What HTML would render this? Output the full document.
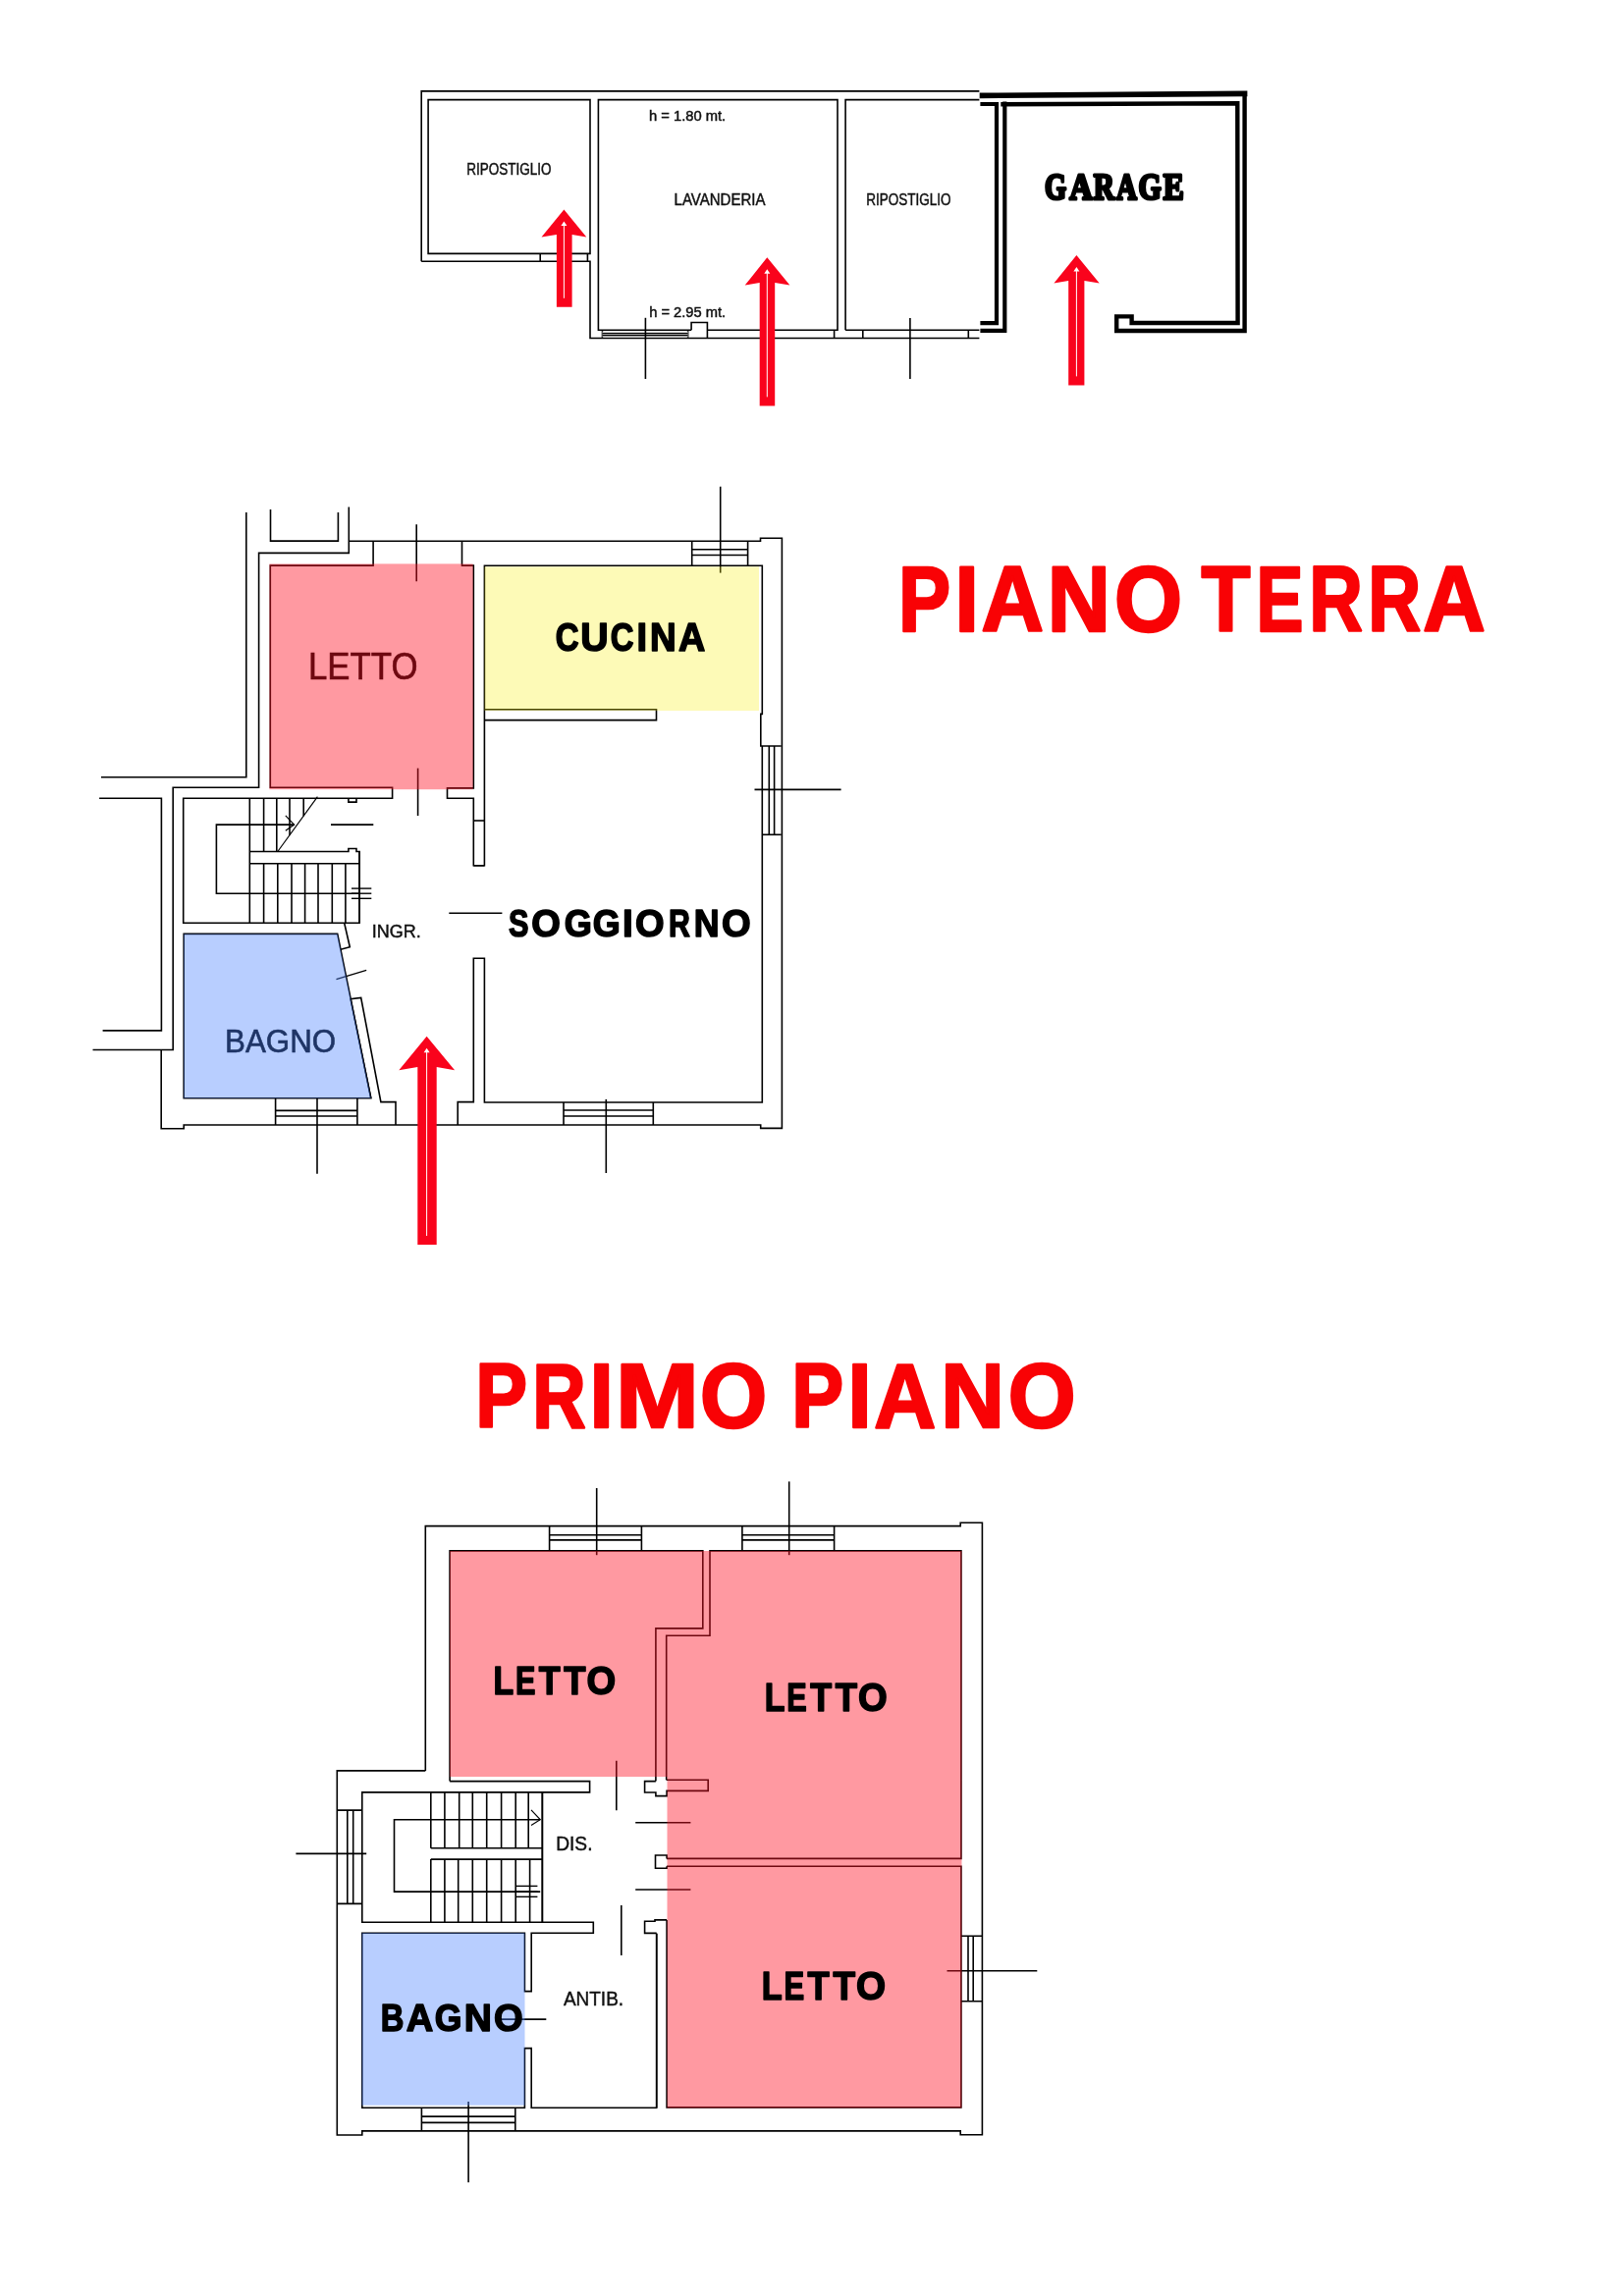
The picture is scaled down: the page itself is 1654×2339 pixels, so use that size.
<!DOCTYPE html>
<html><head><meta charset="utf-8"><style>
html,body{margin:0;padding:0;background:#fff;}
body{width:1654px;height:2339px;overflow:hidden;font-family:"Liberation Sans",sans-serif;}
svg{display:block;will-change:transform;}
text{-webkit-font-smoothing:antialiased;}
</style></head><body>
<svg width="1654" height="2339" viewBox="0 0 1654 2339">
<rect width="1654" height="2339" fill="#fff"/>
<path d="M 429.2 266.3 V 92.9 H 997.4" stroke="#000" stroke-width="1.6" fill="none" />
<path d="M 436.1 101.6 H 601 V 258.4 H 436.1 Z" stroke="#000" stroke-width="1.6" fill="none" />
<path d="M 429.2 266.3 H 601 V 344.5 H 997.4" stroke="#000" stroke-width="1.6" fill="none" />
<line x1="550.2" y1="258.4" x2="550.2" y2="266.3" stroke="#000" stroke-width="1.6"/>
<line x1="598.4" y1="258.4" x2="598.4" y2="266.3" stroke="#000" stroke-width="1.6"/>
<path d="M 704.1 336.3 H 609.4 V 101.6 H 853 V 336.3 H 720.4" stroke="#000" stroke-width="1.6" fill="none" />
<path d="M 704.1 336.3 V 328.5 H 720.4 V 344.5" stroke="#000" stroke-width="1.6" fill="none" />
<line x1="613.5" y1="336.3" x2="613.5" y2="344.5" stroke="#000" stroke-width="1.6"/>
<line x1="700.6" y1="336.3" x2="700.6" y2="344.5" stroke="#000" stroke-width="1.6"/>
<rect x="613.5" y="337.5" width="87.1" height="6" fill="#d8d8d8" />
<line x1="613.5" y1="339.6" x2="700.6" y2="339.6" stroke="#000" stroke-width="1.2"/>
<line x1="613.5" y1="341.7" x2="700.6" y2="341.7" stroke="#000" stroke-width="1.2"/>
<line x1="849.6" y1="336.3" x2="849.6" y2="344.5" stroke="#000" stroke-width="1.6"/>
<path d="M 861.1 336.3 V 101.6 H 997.4" stroke="#000" stroke-width="1.6" fill="none" />
<path d="M 861.1 336.3 H 997.4" stroke="#000" stroke-width="1.6" fill="none" />
<line x1="878.8" y1="336.3" x2="878.8" y2="344.5" stroke="#000" stroke-width="1.6"/>
<line x1="986.3" y1="336.3" x2="986.3" y2="344.5" stroke="#000" stroke-width="1.6"/>
<line x1="657.4" y1="323.8" x2="657.4" y2="386" stroke="#000" stroke-width="1.6"/>
<line x1="926.9" y1="323.9" x2="926.9" y2="386" stroke="#000" stroke-width="1.6"/>
<path d="M 1000.5 97.4 L 1267.6 95.4" stroke="#000" stroke-width="5.6" fill="none" stroke-linejoin="miter" stroke-linecap="square"/>
<path d="M 1267.6 95.4 L 1267.6 337 L 1137.2 337 L 1137.2 322.4 L 1152.6 322.4 L 1152.6 329 L 1260.6 329 L 1260.3 105.2 L 1021.5 106.2" stroke="#000" stroke-width="4.4" fill="none" stroke-linejoin="miter" stroke-linecap="square"/>
<path d="M 1000.5 106 H 1015 V 329.2 H 1000.5" stroke="#000" stroke-width="4.2" fill="none" stroke-linejoin="miter" stroke-linecap="square"/>
<path d="M 1023.3 105.6 V 336.8 H 1000.5" stroke="#000" stroke-width="4.2" fill="none" stroke-linejoin="miter" stroke-linecap="square"/>
<path d="M 250.8 522 V 791.7 H 103" stroke="#000" stroke-width="1.6" fill="none" />
<path d="M 275.5 519 V 551.1 H 344.4 V 522" stroke="#000" stroke-width="1.6" fill="none" />
<path d="M 355.3 516.6 V 563.4 H 263.6 V 802.3 H 176.2 V 1069.5 H 94.5" stroke="#000" stroke-width="1.6" fill="none" />
<path d="M 101.1 813.2 H 164.4 V 1049.9 H 104.6" stroke="#000" stroke-width="1.6" fill="none" />
<path d="M 164.2 1069.5 V 1149.8 H 187.2 V 1146 H 774.7 V 1149.4 H 796.4 V 548.2 H 774.5 V 551.3 H 355.3" stroke="#000" stroke-width="1.6" fill="none" />
<path d="M 380.1 551.3 V 576.1 H 275.3 V 802.3 H 399.6 V 813.3 H 186.7 V 940.3 H 366.1 V 867.5" stroke="#000" stroke-width="1.6" fill="none" />
<path d="M 470.5 551.3 V 576.1 H 482.3 V 802.9 H 455.5 V 813.3 H 482.3 V 881.8 H 493.4 V 576.3 H 704.7" stroke="#000" stroke-width="1.6" fill="none" />
<line x1="482.3" y1="836" x2="493.4" y2="836" stroke="#000" stroke-width="1.6"/>
<path d="M 354.9 813.3 V 817.1 H 363 V 813.3" stroke="#000" stroke-width="1.6" fill="none" />
<path d="M 704.7 551.3 V 576.3 H 761.6 V 551.3" stroke="#000" stroke-width="1.6" fill="none" />
<line x1="704.7" y1="559.8" x2="761.6" y2="559.8" stroke="#000" stroke-width="1.6"/>
<line x1="704.7" y1="565.5" x2="761.6" y2="565.5" stroke="#000" stroke-width="1.6"/>
<path d="M 761.6 576.3 H 776.3 V 727.4 H 774.8 V 760 H 795.7" stroke="#000" stroke-width="1.6" fill="none" />
<line x1="783.3" y1="760" x2="783.3" y2="850.3" stroke="#000" stroke-width="1.6"/>
<line x1="788.6" y1="760" x2="788.6" y2="850.3" stroke="#000" stroke-width="1.6"/>
<path d="M 776.3 760 V 1123 H 493.4 V 976.3 H 482.3 V 1122.6 H 466.2 V 1146" stroke="#000" stroke-width="1.6" fill="none" />
<line x1="776.3" y1="850.3" x2="795.7" y2="850.3" stroke="#000" stroke-width="1.6"/>
<path d="M 493.4 722.7 H 668.5 V 733.6 H 493.4" stroke="#000" stroke-width="1.6" fill="none" />
<line x1="424.2" y1="534.3" x2="424.2" y2="592.2" stroke="#000" stroke-width="1.6"/>
<line x1="733.7" y1="495.7" x2="733.7" y2="583.6" stroke="#000" stroke-width="1.6"/>
<line x1="768.5" y1="804.4" x2="856.6" y2="804.4" stroke="#000" stroke-width="1.6"/>
<line x1="425.6" y1="782.6" x2="425.6" y2="831" stroke="#000" stroke-width="1.6"/>
<line x1="617.3" y1="1119.9" x2="617.3" y2="1195" stroke="#000" stroke-width="1.6"/>
<line x1="323" y1="1118.8" x2="323" y2="1195.8" stroke="#000" stroke-width="1.6"/>
<line x1="457.3" y1="930.2" x2="511.4" y2="930.2" stroke="#000" stroke-width="1.6"/>
<line x1="337" y1="840.1" x2="380.3" y2="840.1" stroke="#000" stroke-width="1.6"/>
<path d="M 574 1123 V 1146 M 665.3 1123 V 1146" stroke="#000" stroke-width="1.6" fill="none" />
<line x1="574" y1="1131" x2="665.3" y2="1131" stroke="#000" stroke-width="1.6"/>
<line x1="574" y1="1137" x2="665.3" y2="1137" stroke="#000" stroke-width="1.6"/>
<path d="M 254.3 813.3 V 940.3" stroke="#000" stroke-width="1.6" fill="none" />
<line x1="268.6" y1="813.3" x2="268.6" y2="867.5" stroke="#000" stroke-width="1.6"/>
<line x1="281.8" y1="813.3" x2="281.8" y2="867.5" stroke="#000" stroke-width="1.6"/>
<line x1="323.4" y1="811.7" x2="282.8" y2="867.5" stroke="#000" stroke-width="1.2"/>
<line x1="295.0" y1="813.3" x2="295.0" y2="850.7325123152709" stroke="#000" stroke-width="1.6"/>
<line x1="309.2" y1="813.3" x2="309.2" y2="831.2162561576355" stroke="#000" stroke-width="1.6"/>
<line x1="322.4" y1="813.3" x2="322.4" y2="813.0743842364533" stroke="#000" stroke-width="1.6"/>
<path d="M 300 840.1 H 220.4 V 910.2 H 366.1" stroke="#000" stroke-width="1.6" fill="none" />
<path d="M 290.8 830.8 L 299.6 840.1 L 290.8 846.2" stroke="#000" stroke-width="1.2" fill="none" />
<path d="M 254.3 867.5 H 354.9 V 864.5 H 363 V 867.5 H 366.1 V 940.3" stroke="#000" stroke-width="1.6" fill="none" />
<line x1="254.3" y1="879.7" x2="366.1" y2="879.7" stroke="#000" stroke-width="1.6"/>
<line x1="268.6" y1="879.7" x2="268.6" y2="940.3" stroke="#000" stroke-width="1.6"/>
<line x1="282.8" y1="879.7" x2="282.8" y2="940.3" stroke="#000" stroke-width="1.6"/>
<line x1="297" y1="879.7" x2="297" y2="940.3" stroke="#000" stroke-width="1.6"/>
<line x1="310.6" y1="879.7" x2="310.6" y2="940.3" stroke="#000" stroke-width="1.6"/>
<line x1="324" y1="879.7" x2="324" y2="940.3" stroke="#000" stroke-width="1.6"/>
<line x1="338.3" y1="879.7" x2="338.3" y2="940.3" stroke="#000" stroke-width="1.6"/>
<line x1="351.9" y1="879.7" x2="351.9" y2="940.3" stroke="#000" stroke-width="1.6"/>
<line x1="358" y1="905.1" x2="378.3" y2="905.1" stroke="#000" stroke-width="1.4"/>
<line x1="358" y1="910.2" x2="378.3" y2="910.2" stroke="#000" stroke-width="1.4"/>
<line x1="358" y1="915.3" x2="378.3" y2="915.3" stroke="#000" stroke-width="1.4"/>
<path d="M 187.2 951.4 H 343.7 L 377.8 1118.8 H 187.2 Z" stroke="#000" stroke-width="1.6" fill="none" />
<path d="M 350.8 940.8 L 356.3 964.8 L 346.9 967.3" stroke="#000" stroke-width="1.6" fill="none" />
<line x1="342.5" y1="997.6" x2="373.2" y2="988.3" stroke="#000" stroke-width="1.3"/>
<path d="M 377.8 1118.8 L 357.1 1017.8 L 367.7 1016.5 L 387.9 1122.6 H 403 V 1146" stroke="#000" stroke-width="1.6" fill="none" />
<path d="M 280.6 1118.8 V 1146 M 363.9 1118.8 V 1146" stroke="#000" stroke-width="1.6" fill="none" />
<line x1="280.6" y1="1131.4" x2="363.9" y2="1131.4" stroke="#000" stroke-width="1.6"/>
<line x1="280.6" y1="1137" x2="363.9" y2="1137" stroke="#000" stroke-width="1.6"/>
<path d="M 482.3 881.8 H 493.4" stroke="#000" stroke-width="1.6" fill="none" />
<rect x="274.4" y="574.4" width="207.3" height="229.8" fill="rgb(255,19,37)" fill-opacity="0.43"/>
<rect x="493.4" y="577.3" width="279.6" height="146.7" fill="rgb(248,238,18)" fill-opacity="0.3"/>
<polygon points="187.2,951.4 343.7,951.4 377.8,1118.8 187.2,1118.8" fill="rgb(77,132,255)" fill-opacity="0.4"/>
<text x="314.02" y="691.82" font-family="Liberation Sans" font-weight="400" font-size="38.17" textLength="111.41" lengthAdjust="spacingAndGlyphs" fill="#6e0810" stroke="#6e0810" stroke-width="0.6">LETTO</text>
<text x="229.10" y="1071.97" font-family="Liberation Sans" font-weight="400" font-size="33.38" textLength="113.07" lengthAdjust="spacingAndGlyphs" fill="#1f3566" stroke="#1f3566" stroke-width="0.6">BAGNO</text>
<text x="378.68" y="955.42" font-family="Liberation Sans" font-weight="400" font-size="18.45" textLength="49.99" lengthAdjust="spacingAndGlyphs" fill="#111" stroke="#111" stroke-width="0.45">INGR.</text>
<text x="565.78" y="662.80" font-family="Liberation Sans" font-weight="700" font-size="40.43" textLength="23.82" lengthAdjust="spacingAndGlyphs" fill="#000"  stroke="#000" stroke-width="1.6" stroke-linejoin="round">C</text>
<text x="591.14" y="662.80" font-family="Liberation Sans" font-weight="700" font-size="40.43" textLength="28.41" lengthAdjust="spacingAndGlyphs" fill="#000"  stroke="#000" stroke-width="1.6" stroke-linejoin="round">U</text>
<text x="621.69" y="662.80" font-family="Liberation Sans" font-weight="700" font-size="40.43" textLength="23.71" lengthAdjust="spacingAndGlyphs" fill="#000"  stroke="#000" stroke-width="1.6" stroke-linejoin="round">C</text>
<text x="648.53" y="662.80" font-family="Liberation Sans" font-weight="700" font-size="40.43" textLength="10.54" lengthAdjust="spacingAndGlyphs" fill="#000"  stroke="#000" stroke-width="1.6" stroke-linejoin="round">I</text>
<text x="662.00" y="662.80" font-family="Liberation Sans" font-weight="700" font-size="40.43" textLength="26.68" lengthAdjust="spacingAndGlyphs" fill="#000"  stroke="#000" stroke-width="1.6" stroke-linejoin="round">N</text>
<text x="690.96" y="662.80" font-family="Liberation Sans" font-weight="700" font-size="40.43" textLength="27.27" lengthAdjust="spacingAndGlyphs" fill="#000"  stroke="#000" stroke-width="1.6" stroke-linejoin="round">A</text>
<text x="517.88" y="953.80" font-family="Liberation Sans" font-weight="700" font-size="39.71" textLength="20.46" lengthAdjust="spacingAndGlyphs" fill="#000"  stroke="#000" stroke-width="1.6" stroke-linejoin="round">S</text>
<text x="541.28" y="953.80" font-family="Liberation Sans" font-weight="700" font-size="39.71" textLength="29.55" lengthAdjust="spacingAndGlyphs" fill="#000"  stroke="#000" stroke-width="1.6" stroke-linejoin="round">O</text>
<text x="574.65" y="953.80" font-family="Liberation Sans" font-weight="700" font-size="39.71" textLength="28.12" lengthAdjust="spacingAndGlyphs" fill="#000"  stroke="#000" stroke-width="1.6" stroke-linejoin="round">G</text>
<text x="603.86" y="953.80" font-family="Liberation Sans" font-weight="700" font-size="39.71" textLength="28.00" lengthAdjust="spacingAndGlyphs" fill="#000"  stroke="#000" stroke-width="1.6" stroke-linejoin="round">G</text>
<text x="633.99" y="953.80" font-family="Liberation Sans" font-weight="700" font-size="39.71" textLength="10.73" lengthAdjust="spacingAndGlyphs" fill="#000"  stroke="#000" stroke-width="1.6" stroke-linejoin="round">I</text>
<text x="646.98" y="953.80" font-family="Liberation Sans" font-weight="700" font-size="39.71" textLength="29.55" lengthAdjust="spacingAndGlyphs" fill="#000"  stroke="#000" stroke-width="1.6" stroke-linejoin="round">O</text>
<text x="680.93" y="953.80" font-family="Liberation Sans" font-weight="700" font-size="39.71" textLength="21.84" lengthAdjust="spacingAndGlyphs" fill="#000"  stroke="#000" stroke-width="1.6" stroke-linejoin="round">R</text>
<text x="706.68" y="953.80" font-family="Liberation Sans" font-weight="700" font-size="39.71" textLength="25.83" lengthAdjust="spacingAndGlyphs" fill="#000"  stroke="#000" stroke-width="1.6" stroke-linejoin="round">N</text>
<text x="734.97" y="953.80" font-family="Liberation Sans" font-weight="700" font-size="39.71" textLength="29.66" lengthAdjust="spacingAndGlyphs" fill="#000"  stroke="#000" stroke-width="1.6" stroke-linejoin="round">O</text>
<text x="475.22" y="177.74" font-family="Liberation Sans" font-weight="400" font-size="15.63" textLength="86.26" lengthAdjust="spacingAndGlyphs" fill="#111" stroke="#111" stroke-width="0.45">RIPOSTIGLIO</text>
<text x="686.60" y="209.30" font-family="Liberation Sans" font-weight="400" font-size="16.09" textLength="92.83" lengthAdjust="spacingAndGlyphs" fill="#111" stroke="#111" stroke-width="0.45">LAVANDERIA</text>
<text x="882.22" y="209.14" font-family="Liberation Sans" font-weight="400" font-size="15.63" textLength="86.36" lengthAdjust="spacingAndGlyphs" fill="#111" stroke="#111" stroke-width="0.45">RIPOSTIGLIO</text>
<text x="660.97" y="122.76" font-family="Liberation Sans" font-weight="400" font-size="14.42" textLength="78.24" lengthAdjust="spacingAndGlyphs" fill="#111" stroke="#111" stroke-width="0.45">h = 1.80 mt.</text>
<text x="661.17" y="323.25" font-family="Liberation Sans" font-weight="400" font-size="14.69" textLength="78.03" lengthAdjust="spacingAndGlyphs" fill="#111" stroke="#111" stroke-width="0.45">h = 2.95 mt.</text>
<text x="1064.08" y="203.40" font-family="Liberation Serif" font-weight="700" font-size="38.02" textLength="22.11" lengthAdjust="spacingAndGlyphs" fill="#000" stroke="#000" stroke-width="3.2" stroke-linejoin="round">G</text>
<text x="1089.28" y="203.40" font-family="Liberation Serif" font-weight="700" font-size="38.02" textLength="23.46" lengthAdjust="spacingAndGlyphs" fill="#000" stroke="#000" stroke-width="3.2" stroke-linejoin="round">A</text>
<text x="1113.76" y="203.40" font-family="Liberation Serif" font-weight="700" font-size="38.02" textLength="21.21" lengthAdjust="spacingAndGlyphs" fill="#000" stroke="#000" stroke-width="3.2" stroke-linejoin="round">R</text>
<text x="1137.11" y="203.40" font-family="Liberation Serif" font-weight="700" font-size="38.02" textLength="20.90" lengthAdjust="spacingAndGlyphs" fill="#000" stroke="#000" stroke-width="3.2" stroke-linejoin="round">A</text>
<text x="1159.50" y="203.40" font-family="Liberation Serif" font-weight="700" font-size="38.02" textLength="23.34" lengthAdjust="spacingAndGlyphs" fill="#000" stroke="#000" stroke-width="3.2" stroke-linejoin="round">G</text>
<text x="1184.73" y="203.40" font-family="Liberation Serif" font-weight="700" font-size="38.02" textLength="21.01" lengthAdjust="spacingAndGlyphs" fill="#000" stroke="#000" stroke-width="3.2" stroke-linejoin="round">E</text>
<text x="915.02" y="642.50" font-family="Liberation Sans" font-weight="700" font-size="93.62" textLength="53.13" lengthAdjust="spacingAndGlyphs" fill="#f90205"  stroke="#f90205" stroke-width="2.6" stroke-linejoin="round">P</text>
<text x="972.51" y="642.50" font-family="Liberation Sans" font-weight="700" font-size="93.62" textLength="24.34" lengthAdjust="spacingAndGlyphs" fill="#f90205"  stroke="#f90205" stroke-width="2.6" stroke-linejoin="round">I</text>
<text x="999.61" y="642.50" font-family="Liberation Sans" font-weight="700" font-size="93.62" textLength="63.38" lengthAdjust="spacingAndGlyphs" fill="#f90205"  stroke="#f90205" stroke-width="2.6" stroke-linejoin="round">A</text>
<text x="1066.63" y="642.50" font-family="Liberation Sans" font-weight="700" font-size="93.62" textLength="64.14" lengthAdjust="spacingAndGlyphs" fill="#f90205"  stroke="#f90205" stroke-width="2.6" stroke-linejoin="round">N</text>
<text x="1134.95" y="642.50" font-family="Liberation Sans" font-weight="700" font-size="93.62" textLength="69.06" lengthAdjust="spacingAndGlyphs" fill="#f90205"  stroke="#f90205" stroke-width="2.6" stroke-linejoin="round">O</text>
<text x="1223.48" y="642.50" font-family="Liberation Sans" font-weight="700" font-size="93.62" textLength="50.01" lengthAdjust="spacingAndGlyphs" fill="#f90205"  stroke="#f90205" stroke-width="2.6" stroke-linejoin="round">T</text>
<text x="1279.53" y="642.50" font-family="Liberation Sans" font-weight="700" font-size="93.62" textLength="47.93" lengthAdjust="spacingAndGlyphs" fill="#f90205"  stroke="#f90205" stroke-width="2.6" stroke-linejoin="round">E</text>
<text x="1333.29" y="642.50" font-family="Liberation Sans" font-weight="700" font-size="93.62" textLength="54.59" lengthAdjust="spacingAndGlyphs" fill="#f90205"  stroke="#f90205" stroke-width="2.6" stroke-linejoin="round">R</text>
<text x="1393.15" y="642.50" font-family="Liberation Sans" font-weight="700" font-size="93.62" textLength="53.91" lengthAdjust="spacingAndGlyphs" fill="#f90205"  stroke="#f90205" stroke-width="2.6" stroke-linejoin="round">R</text>
<text x="1449.20" y="642.50" font-family="Liberation Sans" font-weight="700" font-size="93.62" textLength="63.49" lengthAdjust="spacingAndGlyphs" fill="#f90205"  stroke="#f90205" stroke-width="2.6" stroke-linejoin="round">A</text>
<text x="484.16" y="1454.20" font-family="Liberation Sans" font-weight="700" font-size="93.04" textLength="52.78" lengthAdjust="spacingAndGlyphs" fill="#f90205"  stroke="#f90205" stroke-width="2.6" stroke-linejoin="round">P</text>
<text x="542.30" y="1454.20" font-family="Liberation Sans" font-weight="700" font-size="93.04" textLength="54.48" lengthAdjust="spacingAndGlyphs" fill="#f90205"  stroke="#f90205" stroke-width="2.6" stroke-linejoin="round">R</text>
<text x="600.61" y="1454.20" font-family="Liberation Sans" font-weight="700" font-size="93.04" textLength="24.34" lengthAdjust="spacingAndGlyphs" fill="#f90205"  stroke="#f90205" stroke-width="2.6" stroke-linejoin="round">I</text>
<text x="626.98" y="1454.20" font-family="Liberation Sans" font-weight="700" font-size="93.04" textLength="84.85" lengthAdjust="spacingAndGlyphs" fill="#f90205"  stroke="#f90205" stroke-width="2.6" stroke-linejoin="round">M</text>
<text x="712.99" y="1454.20" font-family="Liberation Sans" font-weight="700" font-size="93.04" textLength="68.16" lengthAdjust="spacingAndGlyphs" fill="#f90205"  stroke="#f90205" stroke-width="2.6" stroke-linejoin="round">O</text>
<text x="806.15" y="1454.20" font-family="Liberation Sans" font-weight="700" font-size="93.04" textLength="52.89" lengthAdjust="spacingAndGlyphs" fill="#f90205"  stroke="#f90205" stroke-width="2.6" stroke-linejoin="round">P</text>
<text x="863.55" y="1454.20" font-family="Liberation Sans" font-weight="700" font-size="93.04" textLength="24.15" lengthAdjust="spacingAndGlyphs" fill="#f90205"  stroke="#f90205" stroke-width="2.6" stroke-linejoin="round">I</text>
<text x="890.32" y="1454.20" font-family="Liberation Sans" font-weight="700" font-size="93.04" textLength="62.95" lengthAdjust="spacingAndGlyphs" fill="#f90205"  stroke="#f90205" stroke-width="2.6" stroke-linejoin="round">A</text>
<text x="958.18" y="1454.20" font-family="Liberation Sans" font-weight="700" font-size="93.04" textLength="64.63" lengthAdjust="spacingAndGlyphs" fill="#f90205"  stroke="#f90205" stroke-width="2.6" stroke-linejoin="round">N</text>
<text x="1026.76" y="1454.20" font-family="Liberation Sans" font-weight="700" font-size="93.04" textLength="68.83" lengthAdjust="spacingAndGlyphs" fill="#f90205"  stroke="#f90205" stroke-width="2.6" stroke-linejoin="round">O</text>
<path d="M 433.3 1803.9 V 1554.6 H 978.2 V 1551.2 H 1000.4 V 2174.8 H 978.2 V 2170.9 H 368.8 V 2175 H 343.3 V 1803.9 H 433.3" stroke="#000" stroke-width="1.6" fill="none" />
<path d="M 559.6 1554.6 V 1579.9 M 653.4 1554.6 V 1579.9" stroke="#000" stroke-width="1.6" fill="none" />
<line x1="559.6" y1="1563.8" x2="653.4" y2="1563.8" stroke="#000" stroke-width="1.6"/>
<line x1="559.6" y1="1568.9" x2="653.4" y2="1568.9" stroke="#000" stroke-width="1.6"/>
<path d="M 755.9 1554.6 V 1579.9 M 849.6 1554.6 V 1579.9" stroke="#000" stroke-width="1.6" fill="none" />
<line x1="755.9" y1="1563.8" x2="849.6" y2="1563.8" stroke="#000" stroke-width="1.6"/>
<line x1="755.9" y1="1568.9" x2="849.6" y2="1568.9" stroke="#000" stroke-width="1.6"/>
<line x1="607.7" y1="1516" x2="607.7" y2="1584.2" stroke="#000" stroke-width="1.6"/>
<line x1="803.7" y1="1509.3" x2="803.7" y2="1584.2" stroke="#000" stroke-width="1.6"/>
<path d="M 458.1 1814.6 V 1579.9 H 715.8 V 1658.9 H 667.9 V 1814.6" stroke="#000" stroke-width="1.6" fill="none" />
<path d="M 458.1 1814.6 H 600.6 V 1825.9 H 368.8 V 1958.2 H 604.3 V 1969.2 H 541.2 V 2028.6 H 534.4 V 1969.2 H 368.8 V 2147.2 H 534.4 V 2086.6 H 541.2 V 2147.2 H 668.7 V 1969.7" stroke="#000" stroke-width="1.6" fill="none" />
<path d="M 678.7 1813.2 V 1666.3 H 723 V 1579.9 H 978.9 V 1893.4 H 679.1" stroke="#000" stroke-width="1.6" fill="none" />
<path d="M 679.1 1901.2 H 978.9 V 2146.9 H 679.1 V 1955.9" stroke="#000" stroke-width="1.6" fill="none" />
<path d="M 667.9 1814.6 H 656.6 V 1826 H 667.9 V 1829.6 H 679.1 V 1824.4 H 721.2 V 1813.2 H 678.7" stroke="#000" stroke-width="1.6" fill="none" />
<path d="M 679.1 1893.4 V 1890 H 667.5 V 1903.2 H 679.1 V 1901.2" stroke="#000" stroke-width="1.6" fill="none" />
<path d="M 679.1 1955.9 H 667 V 1957.3 H 656.6 V 1969.4 H 668.7" stroke="#000" stroke-width="1.6" fill="none" />
<path d="M 343.7 1844.1 H 368.5 M 343.7 1939.4 H 368.5" stroke="#000" stroke-width="1.6" fill="none" />
<line x1="353.8" y1="1844.1" x2="353.8" y2="1939.4" stroke="#000" stroke-width="1.6"/>
<line x1="359.7" y1="1844.1" x2="359.7" y2="1939.4" stroke="#000" stroke-width="1.6"/>
<line x1="301.4" y1="1888.4" x2="373.2" y2="1888.4" stroke="#000" stroke-width="1.6"/>
<line x1="438.8" y1="1826" x2="438.8" y2="1882.8" stroke="#000" stroke-width="1.6"/>
<line x1="452.9" y1="1826" x2="452.9" y2="1882.8" stroke="#000" stroke-width="1.6"/>
<line x1="467.7" y1="1826" x2="467.7" y2="1882.8" stroke="#000" stroke-width="1.6"/>
<line x1="481.3" y1="1826" x2="481.3" y2="1882.8" stroke="#000" stroke-width="1.6"/>
<line x1="495.7" y1="1826" x2="495.7" y2="1882.8" stroke="#000" stroke-width="1.6"/>
<line x1="510.6" y1="1826" x2="510.6" y2="1882.8" stroke="#000" stroke-width="1.6"/>
<line x1="525.2" y1="1826" x2="525.2" y2="1882.8" stroke="#000" stroke-width="1.6"/>
<line x1="538.2" y1="1826" x2="538.2" y2="1882.8" stroke="#000" stroke-width="1.6"/>
<line x1="438.8" y1="1894.1" x2="438.8" y2="1958.2" stroke="#000" stroke-width="1.6"/>
<line x1="452.9" y1="1894.1" x2="452.9" y2="1958.2" stroke="#000" stroke-width="1.6"/>
<line x1="466.7" y1="1894.1" x2="466.7" y2="1958.2" stroke="#000" stroke-width="1.6"/>
<line x1="481.3" y1="1894.1" x2="481.3" y2="1958.2" stroke="#000" stroke-width="1.6"/>
<line x1="495.7" y1="1894.1" x2="495.7" y2="1958.2" stroke="#000" stroke-width="1.6"/>
<line x1="510.6" y1="1894.1" x2="510.6" y2="1958.2" stroke="#000" stroke-width="1.6"/>
<line x1="525.2" y1="1894.1" x2="525.2" y2="1958.2" stroke="#000" stroke-width="1.6"/>
<line x1="539.6" y1="1894.1" x2="539.6" y2="1958.2" stroke="#000" stroke-width="1.6"/>
<line x1="552.3" y1="1826" x2="552.3" y2="1958.2" stroke="#000" stroke-width="2.0"/>
<path d="M 550.2 1853.7 H 401.5 V 1927.1 H 550.2" stroke="#000" stroke-width="1.6" fill="none" />
<path d="M 541 1843.8 L 550.2 1853.7 L 541 1859.4" stroke="#000" stroke-width="1.2" fill="none" />
<line x1="438.8" y1="1882.8" x2="552.3" y2="1882.8" stroke="#000" stroke-width="1.6"/>
<line x1="438.8" y1="1894.1" x2="552.3" y2="1894.1" stroke="#000" stroke-width="1.6"/>
<line x1="525.4" y1="1921.4" x2="547.4" y2="1921.4" stroke="#000" stroke-width="1.4"/>
<line x1="525.4" y1="1927.1" x2="547.4" y2="1927.1" stroke="#000" stroke-width="1.4"/>
<line x1="525.4" y1="1932.3" x2="547.4" y2="1932.3" stroke="#000" stroke-width="1.4"/>
<path d="M 429.4 2147.2 V 2171 M 524.8 2147.2 V 2171" stroke="#000" stroke-width="1.6" fill="none" />
<line x1="429.4" y1="2156.1" x2="524.8" y2="2156.1" stroke="#000" stroke-width="1.6"/>
<line x1="429.4" y1="2162.4" x2="524.8" y2="2162.4" stroke="#000" stroke-width="1.6"/>
<line x1="477.1" y1="2140.9" x2="477.1" y2="2223.3" stroke="#000" stroke-width="1.6"/>
<path d="M 978.8 1972.3 H 1000.2 M 978.8 2038.8 H 1000.2" stroke="#000" stroke-width="1.6" fill="none" />
<line x1="986" y1="1972.3" x2="986" y2="2038.8" stroke="#000" stroke-width="1.6"/>
<line x1="991.2" y1="1972.3" x2="991.2" y2="2038.8" stroke="#000" stroke-width="1.6"/>
<line x1="964.5" y1="2007.7" x2="1056.3" y2="2007.7" stroke="#000" stroke-width="1.6"/>
<line x1="627.8" y1="1793.8" x2="627.8" y2="1844.3" stroke="#000" stroke-width="1.6"/>
<line x1="632.8" y1="1941" x2="632.8" y2="1992" stroke="#000" stroke-width="1.6"/>
<line x1="647.2" y1="1856.8" x2="703.4" y2="1856.8" stroke="#000" stroke-width="1.6"/>
<line x1="647.2" y1="1925" x2="703.4" y2="1925" stroke="#000" stroke-width="1.6"/>
<line x1="509.6" y1="2057.1" x2="556.3" y2="2057.1" stroke="#000" stroke-width="1.6"/>
<path d="M 668.7 1969.7 V 2147.2" stroke="#000" stroke-width="1.6" fill="none" />
<polygon points="458.1,1580.1 979.5,1580.1 979.5,2147.5 679.5,2147.5 679.5,1810 458.1,1810" fill="rgb(255,19,37)" fill-opacity="0.43"/>
<rect x="368.5" y="1969.2" width="166" height="175.5" fill="rgb(77,132,255)" fill-opacity="0.4"/>
<text x="502.40" y="1725.80" font-family="Liberation Sans" font-weight="700" font-size="40.29" textLength="20.64" lengthAdjust="spacingAndGlyphs" fill="#000"  stroke="#000" stroke-width="1.6" stroke-linejoin="round">L</text>
<text x="524.91" y="1725.80" font-family="Liberation Sans" font-weight="700" font-size="40.29" textLength="20.42" lengthAdjust="spacingAndGlyphs" fill="#000"  stroke="#000" stroke-width="1.6" stroke-linejoin="round">E</text>
<text x="548.74" y="1725.80" font-family="Liberation Sans" font-weight="700" font-size="40.29" textLength="21.85" lengthAdjust="spacingAndGlyphs" fill="#000"  stroke="#000" stroke-width="1.6" stroke-linejoin="round">T</text>
<text x="574.34" y="1725.80" font-family="Liberation Sans" font-weight="700" font-size="40.29" textLength="22.26" lengthAdjust="spacingAndGlyphs" fill="#000"  stroke="#000" stroke-width="1.6" stroke-linejoin="round">T</text>
<text x="597.47" y="1725.80" font-family="Liberation Sans" font-weight="700" font-size="40.29" textLength="29.66" lengthAdjust="spacingAndGlyphs" fill="#000"  stroke="#000" stroke-width="1.6" stroke-linejoin="round">O</text>
<text x="778.80" y="1742.70" font-family="Liberation Sans" font-weight="700" font-size="40.29" textLength="20.66" lengthAdjust="spacingAndGlyphs" fill="#000"  stroke="#000" stroke-width="1.6" stroke-linejoin="round">L</text>
<text x="801.33" y="1742.70" font-family="Liberation Sans" font-weight="700" font-size="40.29" textLength="20.44" lengthAdjust="spacingAndGlyphs" fill="#000"  stroke="#000" stroke-width="1.6" stroke-linejoin="round">E</text>
<text x="825.18" y="1742.70" font-family="Liberation Sans" font-weight="700" font-size="40.29" textLength="21.87" lengthAdjust="spacingAndGlyphs" fill="#000"  stroke="#000" stroke-width="1.6" stroke-linejoin="round">T</text>
<text x="850.79" y="1742.70" font-family="Liberation Sans" font-weight="700" font-size="40.29" textLength="22.28" lengthAdjust="spacingAndGlyphs" fill="#000"  stroke="#000" stroke-width="1.6" stroke-linejoin="round">T</text>
<text x="873.95" y="1742.70" font-family="Liberation Sans" font-weight="700" font-size="40.29" textLength="29.69" lengthAdjust="spacingAndGlyphs" fill="#000"  stroke="#000" stroke-width="1.6" stroke-linejoin="round">O</text>
<text x="775.67" y="2036.60" font-family="Liberation Sans" font-weight="700" font-size="40.43" textLength="20.93" lengthAdjust="spacingAndGlyphs" fill="#000"  stroke="#000" stroke-width="1.6" stroke-linejoin="round">L</text>
<text x="798.47" y="2036.60" font-family="Liberation Sans" font-weight="700" font-size="40.43" textLength="20.72" lengthAdjust="spacingAndGlyphs" fill="#000"  stroke="#000" stroke-width="1.6" stroke-linejoin="round">E</text>
<text x="822.62" y="2036.60" font-family="Liberation Sans" font-weight="700" font-size="40.43" textLength="22.15" lengthAdjust="spacingAndGlyphs" fill="#000"  stroke="#000" stroke-width="1.6" stroke-linejoin="round">T</text>
<text x="848.55" y="2036.60" font-family="Liberation Sans" font-weight="700" font-size="40.43" textLength="22.57" lengthAdjust="spacingAndGlyphs" fill="#000"  stroke="#000" stroke-width="1.6" stroke-linejoin="round">T</text>
<text x="871.99" y="2036.60" font-family="Liberation Sans" font-weight="700" font-size="40.43" textLength="30.07" lengthAdjust="spacingAndGlyphs" fill="#000"  stroke="#000" stroke-width="1.6" stroke-linejoin="round">O</text>
<text x="387.67" y="2068.70" font-family="Liberation Sans" font-weight="700" font-size="39.71" textLength="23.68" lengthAdjust="spacingAndGlyphs" fill="#000"  stroke="#000" stroke-width="1.6" stroke-linejoin="round">B</text>
<text x="413.75" y="2068.70" font-family="Liberation Sans" font-weight="700" font-size="39.71" textLength="27.49" lengthAdjust="spacingAndGlyphs" fill="#000"  stroke="#000" stroke-width="1.6" stroke-linejoin="round">A</text>
<text x="442.78" y="2068.70" font-family="Liberation Sans" font-weight="700" font-size="39.71" textLength="27.66" lengthAdjust="spacingAndGlyphs" fill="#000"  stroke="#000" stroke-width="1.6" stroke-linejoin="round">G</text>
<text x="472.67" y="2068.70" font-family="Liberation Sans" font-weight="700" font-size="39.71" textLength="28.15" lengthAdjust="spacingAndGlyphs" fill="#000"  stroke="#000" stroke-width="1.6" stroke-linejoin="round">N</text>
<text x="503.07" y="2068.70" font-family="Liberation Sans" font-weight="700" font-size="39.71" textLength="29.66" lengthAdjust="spacingAndGlyphs" fill="#000"  stroke="#000" stroke-width="1.6" stroke-linejoin="round">O</text>
<text x="566.16" y="1885.20" font-family="Liberation Sans" font-weight="400" font-size="19.86" textLength="37.36" lengthAdjust="spacingAndGlyphs" fill="#111" stroke="#111" stroke-width="0.45">DIS.</text>
<text x="573.91" y="2043.20" font-family="Liberation Sans" font-weight="400" font-size="20.14" textLength="61.15" lengthAdjust="spacingAndGlyphs" fill="#111" stroke="#111" stroke-width="0.45">ANTIB.</text>
<polygon points="574.4,213.4 597.3,241.6 582.6,239 582.6,312.8 566.9,312.8 566.9,239 551.5,241.6" fill="#f9031c" />
<line x1="574.4" y1="229.4" x2="574.4" y2="303.8" stroke="#fff" stroke-width="1.0"/>
<polygon points="574.4,225.4 577.4,229.9 571.4,229.9" fill="#fff" />
<polygon points="781.3,262.2 804.4,290.6 789.2,288 789.2,413.4 773.7,413.4 773.7,288 758.7,290.6" fill="#f9031c" />
<line x1="781.3" y1="278.2" x2="781.3" y2="404.4" stroke="#fff" stroke-width="1.0"/>
<polygon points="781.3,274.2 784.3,278.7 778.3,278.7" fill="#fff" />
<polygon points="1096.4,260.1 1119.7,288.6 1104.4,286 1104.4,392.4 1088.2,392.4 1088.2,286 1073.4,288.6" fill="#f9031c" />
<line x1="1096.4" y1="276.1" x2="1096.4" y2="383.4" stroke="#fff" stroke-width="1.0"/>
<polygon points="1096.4,272.1 1099.4,276.6 1093.4,276.6" fill="#fff" />
<polygon points="434.6,1055.7 463.1,1090.2 444.7,1087 444.7,1268 425.3,1268 425.3,1087 406.3,1090.2" fill="#f9031c" />
<line x1="434.6" y1="1071.7" x2="434.6" y2="1259" stroke="#fff" stroke-width="1.0"/>
<polygon points="434.6,1067.7 437.6,1072.2 431.6,1072.2" fill="#fff" />
</svg>
</body></html>
